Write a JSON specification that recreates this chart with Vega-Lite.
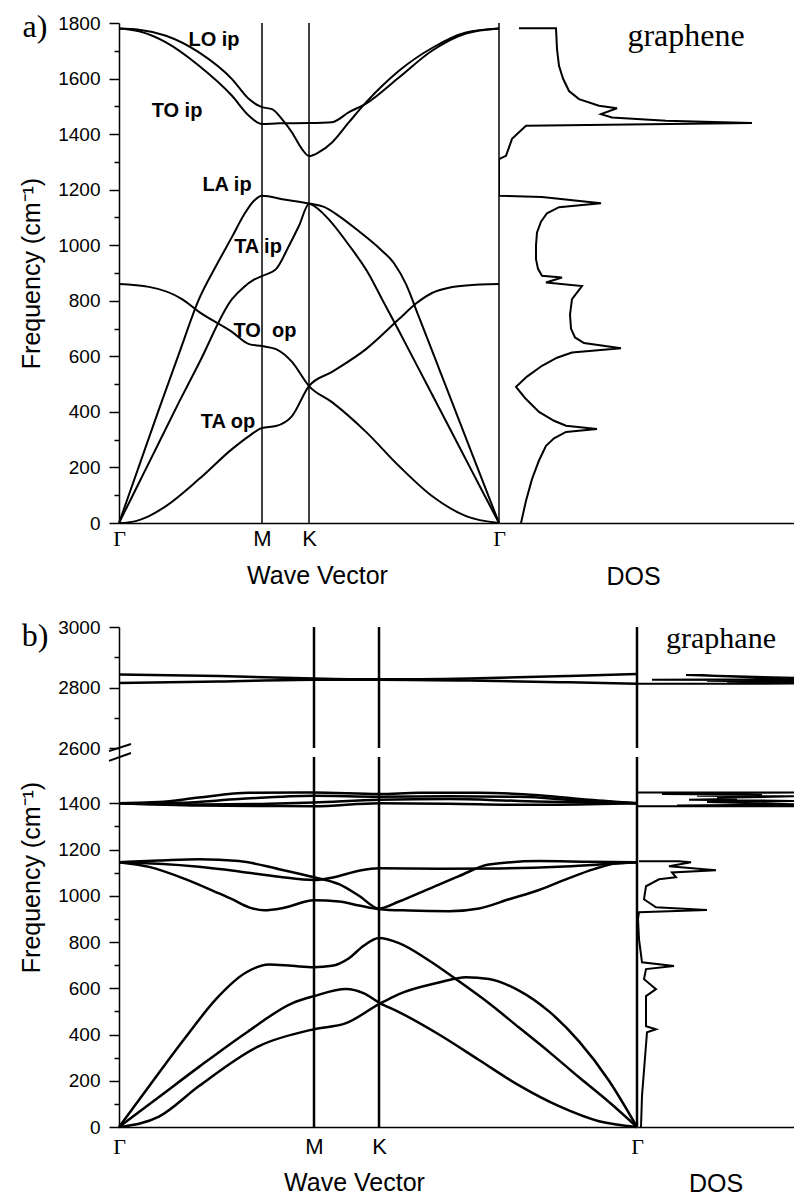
{
"$schema": "https://vega.github.io/schema/vega-lite/v6.json",
"padding": {"left": 19, "top": 11, "right": 0, "bottom": 0},
"config": {"view": {"stroke": null},
 "axis": {"labelColor": "black", "titleColor": "black", "domainColor": "black", "tickColor": "black", "domainWidth": 1.5, "tickWidth": 1.5, "labelFont": "Liberation Sans", "labelFontSize": 19, "titleFont": "Liberation Sans", "titleFontSize": 25, "titleFontWeight": "normal", "grid": false}},
"datasets": {
 "vA": [{"k":143,"lo":0,"hi":1800},{"k":190,"lo":0,"hi":1800},{"k":380,"lo":0,"hi":1800}],
 "vB": [{"k":195,"lo":0,"hi":1600},{"k":195,"lo":2600,"hi":3000},{"k":260,"lo":0,"hi":1600},{"k":260,"lo":2600,"hi":3000},{"k":518,"lo":0,"hi":1600},{"k":518,"lo":2600,"hi":3000}],
 "labA": [{"t":"LO ip","k":95,"f":1739},{"t":"TO ip","k":58,"f":1483},{"t":"LA ip","k":108,"f":1217},{"t":"TA ip","k":139,"f":994},{"t":"TO\u00a0\u00a0op","k":146,"f":691},{"t":"TA op","k":109,"f":363}],
 "panA": [{"t":"a)","k":-84,"f":1785}],
 "panB": [{"t":"b)","k":-84,"f":2970}],
 "nameA": [{"t":"graphene","d":187,"f":1753}],
 "nameB": [{"t":"graphane","d":84,"f":2960}],
 "brk": [{"x1":-10,"y1":2250,"x2":12,"y2":2613},{"x1":-10,"y1":1583,"x2":12,"y2":2050}],
 "bandA": [
{"b":"LO","k":0,"f":1780},{"b":"LO","k":20,"f":1776},{"b":"LO","k":47,"f":1754},{"b":"LO","k":80,"f":1694},{"b":"LO","k":113,"f":1598},{"b":"LO","k":130,"f":1526},{"b":"LO","k":143,"f":1497},{"b":"LO","k":153,"f":1490},{"b":"LO","k":163,"f":1454},{"b":"LO","k":173,"f":1406},{"b":"LO","k":183,"f":1346},{"b":"LO","k":190,"f":1321},{"b":"LO","k":200,"f":1335},{"b":"LO","k":213,"f":1370},{"b":"LO","k":230,"f":1443},{"b":"LO","k":247,"f":1514},{"b":"LO","k":263,"f":1573},{"b":"LO","k":280,"f":1628},{"b":"LO","k":313,"f":1710},{"b":"LO","k":347,"f":1766},{"b":"LO","k":380,"f":1780},
{"b":"TO","k":0,"f":1780},{"b":"TO","k":20,"f":1770},{"b":"TO","k":47,"f":1730},{"b":"TO","k":80,"f":1646},{"b":"TO","k":113,"f":1538},{"b":"TO","k":130,"f":1466},{"b":"TO","k":143,"f":1436},{"b":"TO","k":160,"f":1439},{"b":"TO","k":190,"f":1440},{"b":"TO","k":213,"f":1443},{"b":"TO","k":230,"f":1479},{"b":"TO","k":247,"f":1510},{"b":"TO","k":280,"f":1604},{"b":"TO","k":313,"f":1700},{"b":"TO","k":347,"f":1762},{"b":"TO","k":380,"f":1780},
{"b":"LA","k":0,"f":0},{"b":"LA","k":20,"f":205},{"b":"LA","k":40,"f":410},{"b":"LA","k":60,"f":610},{"b":"LA","k":80,"f":806},{"b":"LA","k":97,"f":925},{"b":"LA","k":113,"f":1030},{"b":"LA","k":125,"f":1110},{"b":"LA","k":135,"f":1160},{"b":"LA","k":143,"f":1178},{"b":"LA","k":165,"f":1165},{"b":"LA","k":190,"f":1150},{"b":"LA","k":205,"f":1138},{"b":"LA","k":220,"f":1105},{"b":"LA","k":240,"f":1050},{"b":"LA","k":260,"f":990},{"b":"LA","k":275,"f":935},{"b":"LA","k":287,"f":860},{"b":"LA","k":300,"f":741},{"b":"LA","k":320,"f":556},{"b":"LA","k":340,"f":370},{"b":"LA","k":360,"f":185},{"b":"LA","k":380,"f":0},
{"b":"TA","k":0,"f":0},{"b":"TA","k":20,"f":145},{"b":"TA","k":40,"f":290},{"b":"TA","k":60,"f":435},{"b":"TA","k":80,"f":575},{"b":"TA","k":113,"f":806},{"b":"TA","k":125,"f":850},{"b":"TA","k":135,"f":876},{"b":"TA","k":143,"f":889},{"b":"TA","k":157,"f":914},{"b":"TA","k":170,"f":998},{"b":"TA","k":180,"f":1070},{"b":"TA","k":190,"f":1148},{"b":"TA","k":200,"f":1128},{"b":"TA","k":210,"f":1092},{"b":"TA","k":230,"f":1000},{"b":"TA","k":250,"f":895},{"b":"TA","k":263,"f":806},{"b":"TA","k":280,"f":691},{"b":"TA","k":300,"f":553},{"b":"TA","k":320,"f":415},{"b":"TA","k":340,"f":276},{"b":"TA","k":360,"f":138},{"b":"TA","k":380,"f":0},
{"b":"ZO","k":0,"f":860},{"b":"ZO","k":30,"f":850},{"b":"ZO","k":63,"f":806},{"b":"ZO","k":80,"f":760},{"b":"ZO","k":113,"f":688},{"b":"ZO","k":130,"f":644},{"b":"ZO","k":143,"f":637},{"b":"ZO","k":157,"f":626},{"b":"ZO","k":173,"f":580},{"b":"ZO","k":190,"f":493},{"b":"ZO","k":213,"f":435},{"b":"ZO","k":247,"f":328},{"b":"ZO","k":280,"f":205},{"b":"ZO","k":313,"f":97},{"b":"ZO","k":347,"f":25},{"b":"ZO","k":380,"f":0},
{"b":"ZA","k":0,"f":0},{"b":"ZA","k":13,"f":4},{"b":"ZA","k":30,"f":25},{"b":"ZA","k":47,"f":61},{"b":"ZA","k":80,"f":158},{"b":"ZA","k":113,"f":266},{"b":"ZA","k":130,"f":313},{"b":"ZA","k":143,"f":342},{"b":"ZA","k":157,"f":349},{"b":"ZA","k":173,"f":385},{"b":"ZA","k":190,"f":493},{"b":"ZA","k":213,"f":544},{"b":"ZA","k":247,"f":626},{"b":"ZA","k":280,"f":734},{"b":"ZA","k":297,"f":790},{"b":"ZA","k":313,"f":828},{"b":"ZA","k":330,"f":847},{"b":"ZA","k":347,"f":855},{"b":"ZA","k":380,"f":860}],
 "dosA": [
{"i":1,"d":20,"f":1781},{"i":2,"d":57,"f":1781},{"i":3,"d":58,"f":1706},{"i":4,"d":60,"f":1646},{"i":5,"d":64,"f":1600},{"i":6,"d":70,"f":1555},{"i":7,"d":80,"f":1526},{"i":8,"d":100,"f":1502},{"i":9,"d":118,"f":1493},{"i":10,"d":102,"f":1472},{"i":11,"d":113,"f":1460},{"i":12,"d":167,"f":1448},{"i":13,"d":253,"f":1440},{"i":14,"d":27,"f":1430},{"i":15,"d":13,"f":1383},{"i":16,"d":7,"f":1322},{"i":17,"d":0,"f":1310},{"i":18,"d":0,"f":1178},{"i":19,"d":43,"f":1174},{"i":20,"d":102,"f":1151},{"i":21,"d":60,"f":1137},{"i":22,"d":48,"f":1115},{"i":23,"d":42,"f":1085},{"i":24,"d":38,"f":1046},{"i":25,"d":37,"f":1000},{"i":26,"d":37,"f":950},{"i":27,"d":39,"f":915},{"i":28,"d":43,"f":890},{"i":29,"d":63,"f":884},{"i":30,"d":47,"f":866},{"i":31,"d":83,"f":853},{"i":32,"d":73,"f":806},{"i":33,"d":71,"f":750},{"i":34,"d":72,"f":700},{"i":35,"d":76,"f":668},{"i":36,"d":85,"f":648},{"i":37,"d":122,"f":629},{"i":38,"d":73,"f":614},{"i":39,"d":58,"f":595},{"i":40,"d":43,"f":566},{"i":41,"d":28,"f":527},{"i":42,"d":17,"f":490},{"i":43,"d":26,"f":450},{"i":44,"d":40,"f":400},{"i":45,"d":55,"f":368},{"i":46,"d":67,"f":350},{"i":47,"d":98,"f":338},{"i":48,"d":67,"f":328},{"i":49,"d":55,"f":305},{"i":50,"d":47,"f":278},{"i":51,"d":40,"f":225},{"i":52,"d":33,"f":158},{"i":53,"d":27,"f":80},{"i":54,"d":22,"f":0}],
 "bandB": [
{"b":"U1","k":0,"f":2843},{"b":"U1","k":100,"f":2838},{"b":"U1","k":195,"f":2830},{"b":"U1","k":260,"f":2827},{"b":"U1","k":350,"f":2830},{"b":"U1","k":450,"f":2838},{"b":"U1","k":518,"f":2845},
{"b":"U2","k":0,"f":2815},{"b":"U2","k":100,"f":2820},{"b":"U2","k":195,"f":2826},{"b":"U2","k":260,"f":2826},{"b":"U2","k":350,"f":2823},{"b":"U2","k":450,"f":2817},{"b":"U2","k":518,"f":2812},
{"b":"H1","k":0,"f":1400},{"b":"H1","k":40,"f":1405},{"b":"H1","k":80,"f":1425},{"b":"H1","k":130,"f":1445},{"b":"H1","k":195,"f":1447},{"b":"H1","k":260,"f":1440},{"b":"H1","k":300,"f":1445},{"b":"H1","k":360,"f":1445},{"b":"H1","k":420,"f":1435},{"b":"H1","k":470,"f":1415},{"b":"H1","k":518,"f":1400},
{"b":"H2","k":0,"f":1400},{"b":"H2","k":60,"f":1402},{"b":"H2","k":120,"f":1418},{"b":"H2","k":195,"f":1432},{"b":"H2","k":260,"f":1428},{"b":"H2","k":330,"f":1430},{"b":"H2","k":400,"f":1428},{"b":"H2","k":460,"f":1412},{"b":"H2","k":518,"f":1400},
{"b":"H3","k":0,"f":1400},{"b":"H3","k":80,"f":1395},{"b":"H3","k":150,"f":1398},{"b":"H3","k":195,"f":1403},{"b":"H3","k":260,"f":1415},{"b":"H3","k":330,"f":1418},{"b":"H3","k":400,"f":1410},{"b":"H3","k":470,"f":1403},{"b":"H3","k":518,"f":1400},
{"b":"H4","k":0,"f":1400},{"b":"H4","k":80,"f":1390},{"b":"H4","k":150,"f":1388},{"b":"H4","k":195,"f":1387},{"b":"H4","k":260,"f":1400},{"b":"H4","k":330,"f":1398},{"b":"H4","k":400,"f":1393},{"b":"H4","k":470,"f":1396},{"b":"H4","k":518,"f":1400},
{"b":"A","k":0,"f":1145},{"b":"A","k":40,"f":1152},{"b":"A","k":80,"f":1158},{"b":"A","k":120,"f":1150},{"b":"A","k":160,"f":1115},{"b":"A","k":195,"f":1080},{"b":"A","k":220,"f":1050},{"b":"A","k":240,"f":1000},{"b":"A","k":260,"f":945},{"b":"A","k":280,"f":975},{"b":"A","k":310,"f":1030},{"b":"A","k":340,"f":1085},{"b":"A","k":370,"f":1135},{"b":"A","k":420,"f":1150},{"b":"A","k":470,"f":1147},{"b":"A","k":518,"f":1145},
{"b":"B","k":0,"f":1145},{"b":"B","k":40,"f":1138},{"b":"B","k":80,"f":1125},{"b":"B","k":120,"f":1105},{"b":"B","k":160,"f":1082},{"b":"B","k":195,"f":1068},{"b":"B","k":215,"f":1080},{"b":"B","k":240,"f":1108},{"b":"B","k":260,"f":1119},{"b":"B","k":320,"f":1117},{"b":"B","k":380,"f":1118},{"b":"B","k":440,"f":1125},{"b":"B","k":480,"f":1135},{"b":"B","k":518,"f":1145},
{"b":"C","k":0,"f":1145},{"b":"C","k":30,"f":1125},{"b":"C","k":67,"f":1071},{"b":"C","k":100,"f":1010},{"b":"C","k":113,"f":985},{"b":"C","k":130,"f":950},{"b":"C","k":145,"f":937},{"b":"C","k":165,"f":948},{"b":"C","k":195,"f":981},{"b":"C","k":220,"f":975},{"b":"C","k":240,"f":958},{"b":"C","k":260,"f":942},{"b":"C","k":290,"f":936},{"b":"C","k":330,"f":933},{"b":"C","k":360,"f":945},{"b":"C","k":390,"f":985},{"b":"C","k":420,"f":1025},{"b":"C","k":447,"f":1071},{"b":"C","k":475,"f":1115},{"b":"C","k":497,"f":1140},{"b":"C","k":518,"f":1145},
{"b":"T1","k":0,"f":0},{"b":"T1","k":40,"f":235},{"b":"T1","k":67,"f":390},{"b":"T1","k":97,"f":553},{"b":"T1","k":127,"f":668},{"b":"T1","k":150,"f":703},{"b":"T1","k":173,"f":697},{"b":"T1","k":195,"f":691},{"b":"T1","k":213,"f":697},{"b":"T1","k":230,"f":730},{"b":"T1","k":245,"f":785},{"b":"T1","k":260,"f":817},{"b":"T1","k":280,"f":795},{"b":"T1","k":310,"f":720},{"b":"T1","k":340,"f":630},{"b":"T1","k":370,"f":535},{"b":"T1","k":400,"f":430},{"b":"T1","k":430,"f":325},{"b":"T1","k":460,"f":215},{"b":"T1","k":490,"f":108},{"b":"T1","k":518,"f":0},
{"b":"T2","k":0,"f":0},{"b":"T2","k":40,"f":130},{"b":"T2","k":80,"f":260},{"b":"T2","k":128,"f":410},{"b":"T2","k":173,"f":535},{"b":"T2","k":195,"f":566},{"b":"T2","k":227,"f":597},{"b":"T2","k":245,"f":578},{"b":"T2","k":260,"f":538},{"b":"T2","k":280,"f":497},{"b":"T2","k":320,"f":400},{"b":"T2","k":360,"f":290},{"b":"T2","k":400,"f":180},{"b":"T2","k":440,"f":90},{"b":"T2","k":480,"f":25},{"b":"T2","k":518,"f":0},
{"b":"T3","k":0,"f":0},{"b":"T3","k":40,"f":45},{"b":"T3","k":80,"f":177},{"b":"T3","k":140,"f":350},{"b":"T3","k":195,"f":423},{"b":"T3","k":227,"f":449},{"b":"T3","k":260,"f":531},{"b":"T3","k":280,"f":575},{"b":"T3","k":320,"f":625},{"b":"T3","k":347,"f":648},{"b":"T3","k":370,"f":640},{"b":"T3","k":400,"f":590},{"b":"T3","k":430,"f":500},{"b":"T3","k":460,"f":370},{"b":"T3","k":490,"f":200},{"b":"T3","k":518,"f":0}],
 "dosB": [
{"s":1,"i":1,"d":4,"f":0},{"s":1,"i":2,"d":5,"f":134},{"s":1,"i":3,"d":10,"f":410},{"s":1,"i":4,"d":19,"f":423},{"s":1,"i":5,"d":9,"f":436},{"s":1,"i":6,"d":9,"f":566},{"s":1,"i":7,"d":19,"f":596},{"s":1,"i":8,"d":7,"f":639},{"s":1,"i":9,"d":9,"f":683},{"s":1,"i":10,"d":37,"f":696},{"s":1,"i":11,"d":5,"f":712},{"s":1,"i":12,"d":2,"f":812},{"s":1,"i":13,"d":1,"f":900},{"s":1,"i":14,"d":2,"f":929},{"s":1,"i":15,"d":70,"f":938},{"s":1,"i":16,"d":19,"f":950},{"s":1,"i":17,"d":7,"f":985},{"s":1,"i":18,"d":9,"f":1041},{"s":1,"i":19,"d":22,"f":1071},{"s":1,"i":20,"d":39,"f":1080},{"s":1,"i":21,"d":35,"f":1101},{"s":1,"i":22,"d":79,"f":1110},{"s":1,"i":23,"d":32,"f":1128},{"s":1,"i":24,"d":54,"f":1145},{"s":1,"i":25,"d":42,"f":1149},{"s":1,"i":26,"d":2,"f":1149},
{"s":2,"i":1,"d":0,"f":1447},{"s":2,"i":2,"d":160,"f":1447},{"s":2,"i":3,"d":25,"f":1440},{"s":2,"i":4,"d":125,"f":1437},{"s":2,"i":5,"d":60,"f":1432},{"s":2,"i":6,"d":160,"f":1430},{"s":2,"i":7,"d":80,"f":1424},{"s":2,"i":8,"d":100,"f":1420},{"s":2,"i":9,"d":52,"f":1415},{"s":2,"i":10,"d":160,"f":1410},{"s":2,"i":11,"d":70,"f":1405},{"s":2,"i":12,"d":160,"f":1395},{"s":2,"i":13,"d":40,"f":1390},{"s":2,"i":14,"d":160,"f":1387},{"s":2,"i":15,"d":0,"f":1387},
{"s":3,"i":1,"d":0,"f":2812},{"s":3,"i":2,"d":160,"f":2813},{"s":3,"i":3,"d":90,"f":2817},{"s":3,"i":4,"d":160,"f":2819},{"s":3,"i":5,"d":70,"f":2822},{"s":3,"i":6,"d":160,"f":2824},{"s":3,"i":7,"d":15,"f":2826},{"s":3,"i":8,"d":160,"f":2828},{"s":3,"i":9,"d":92,"f":2836},{"s":3,"i":10,"d":49,"f":2841},{"s":3,"i":11,"d":92,"f":2838},{"s":3,"i":12,"d":160,"f":2832}]
},
"spacing": 29,
"bounds": "full",
"vconcat": [
{"spacing": 0, "bounds": "flush", "hconcat": [
 {"width": 380, "height": 500,
  "layer": [
   {"data": {"name": "vA"}, "mark": {"type": "rule", "color": "black", "strokeWidth": 1.5},
    "encoding": {
     "x": {"field": "k", "type": "quantitative", "scale": {"domain": [0, 380], "nice": false, "zero": false},
       "axis": {"values": [0, 143, 190, 380], "labelExpr": "datum.value == 143 ? 'M' : datum.value == 190 ? 'K' : 'Γ'", "labelFont": {"condition": {"test": "datum.value == 143 || datum.value == 190", "value": "Liberation Sans"}, "value": "Liberation Serif"}, "labelFontSize": 22, "ticks": false, "tickSize": 0, "tickCount": 40, "labelPadding": 5, "labelFlush": false, "labelOverlap": false, "title": "Wave Vector", "titlePadding": 14, "titleX": 198}},
     "y": {"field": "lo", "type": "quantitative", "scale": {"domain": [0, 1800], "nice": false, "zero": false},
       "axis": {"values": [0,100,200,300,400,500,600,700,800,900,1000,1100,1200,1300,1400,1500,1600,1700,1800], "tickCount": 40, "format": "d", "labelExpr": "datum.value % 200 === 0 ? datum.label : ''", "tickSize": {"condition": {"test": "datum.value % 200 === 0", "value": 10}, "value": 5}, "labelPadding": 9, "labelOverlap": false, "title": "Frequency (cm⁻¹)", "titlePadding": 13}},
     "y2": {"field": "hi"}}},
   {"data": {"name": "bandA"}, "mark": {"type": "line", "color": "black", "strokeWidth": 2, "interpolate": "monotone"},
    "encoding": {"x": {"field": "k", "type": "quantitative"}, "y": {"field": "f", "type": "quantitative"}, "detail": {"field": "b"}}},
   {"data": {"name": "labA"}, "mark": {"type": "text", "font": "Liberation Sans", "fontWeight": "bold", "fontSize": 20, "color": "black"},
    "encoding": {"x": {"field": "k", "type": "quantitative"}, "y": {"field": "f", "type": "quantitative"}, "text": {"field": "t"}}},
   {"data": {"name": "panA"}, "mark": {"type": "text", "font": "Liberation Serif", "fontSize": 32, "color": "black"},
    "encoding": {"x": {"field": "k", "type": "quantitative"}, "y": {"field": "f", "type": "quantitative"}, "text": {"field": "t"}}}
  ]},
 {"width": 295, "height": 500,
  "layer": [
   {"data": {"name": "dosA"}, "mark": {"type": "line", "color": "black", "strokeWidth": 2, "clip": true},
    "encoding": {
     "x": {"field": "d", "type": "quantitative", "scale": {"domain": [0, 295], "nice": false, "zero": false}, "axis": {"labels": false, "ticks": false, "title": "DOS", "titlePadding": 41, "titleX": 134}},
     "y": {"field": "f", "type": "quantitative", "scale": {"domain": [0, 1800], "nice": false, "zero": false}, "axis": null},
     "order": {"field": "i"}}},
   {"data": {"name": "nameA"}, "mark": {"type": "text", "font": "Liberation Serif", "fontSize": 32, "color": "black"},
    "encoding": {"x": {"field": "d", "type": "quantitative"}, "y": {"field": "f", "type": "quantitative"}, "text": {"field": "t"}}}
  ]}
]},
{"spacing": 0, "bounds": "flush", "hconcat": [
 {"width": 518, "height": 500,
  "layer": [
   {"data": {"name": "vB"}, "mark": {"type": "rule", "color": "black", "strokeWidth": 2.5},
    "encoding": {
     "x": {"field": "k", "type": "quantitative", "scale": {"domain": [0, 518], "nice": false, "zero": false},
       "axis": {"values": [0, 195, 260, 518], "labelExpr": "datum.value == 195 ? 'M' : datum.value == 260 ? 'K' : 'Γ'", "labelFont": {"condition": {"test": "datum.value == 195 || datum.value == 260", "value": "Liberation Sans"}, "value": "Liberation Serif"}, "labelFontSize": 22, "ticks": false, "tickSize": 0, "tickCount": 40, "labelPadding": 9, "labelFlush": false, "labelOverlap": false, "title": "Wave Vector", "titlePadding": 13, "titleX": 235}},
     "y": {"field": "lo", "type": "quantitative", "scale": {"domain": [0, 1600, 2600, 3000], "range": [500, 130, 121, 0], "nice": false, "zero": false},
       "axis": {"values": [0,100,200,300,400,500,600,700,800,900,1000,1100,1200,1300,1400,2600,2700,2800,2900,3000], "tickCount": 40, "format": "d", "labelExpr": "datum.value % 200 === 0 ? datum.label : ''", "tickSize": {"condition": {"test": "datum.value % 200 === 0", "value": 10}, "value": 5}, "labelPadding": 9, "labelOverlap": false, "title": "Frequency (cm⁻¹)", "titlePadding": 13}},
     "y2": {"field": "hi"}}},
   {"data": {"name": "bandB"}, "mark": {"type": "line", "color": "black", "strokeWidth": 2.5, "interpolate": "monotone"},
    "encoding": {"x": {"field": "k", "type": "quantitative"}, "y": {"field": "f", "type": "quantitative"}, "detail": {"field": "b"}}},
   {"data": {"name": "brk"}, "mark": {"type": "rule", "color": "black", "strokeWidth": 2},
    "encoding": {"x": {"field": "x1", "type": "quantitative"}, "y": {"field": "y1", "type": "quantitative"}, "x2": {"field": "x2"}, "y2": {"field": "y2"}}},
   {"data": {"name": "panB"}, "mark": {"type": "text", "font": "Liberation Serif", "fontSize": 32, "color": "black"},
    "encoding": {"x": {"field": "k", "type": "quantitative"}, "y": {"field": "f", "type": "quantitative"}, "text": {"field": "t"}}}
  ]},
 {"width": 157, "height": 500,
  "layer": [
   {"data": {"name": "dosB"}, "mark": {"type": "line", "color": "black", "strokeWidth": 2, "clip": true},
    "encoding": {
     "x": {"field": "d", "type": "quantitative", "scale": {"domain": [0, 157], "nice": false, "zero": false}, "axis": {"labels": false, "ticks": false, "title": "DOS", "titlePadding": 44}},
     "y": {"field": "f", "type": "quantitative", "scale": {"domain": [0, 1600, 2600, 3000], "range": [500, 130, 121, 0], "nice": false, "zero": false}, "axis": null},
     "detail": {"field": "s"},
     "order": {"field": "i"}}},
   {"data": {"name": "nameB"}, "mark": {"type": "text", "font": "Liberation Serif", "fontSize": 30, "color": "black"},
    "encoding": {"x": {"field": "d", "type": "quantitative"}, "y": {"field": "f", "type": "quantitative"}, "text": {"field": "t"}}}
  ]}
]}
]
}
